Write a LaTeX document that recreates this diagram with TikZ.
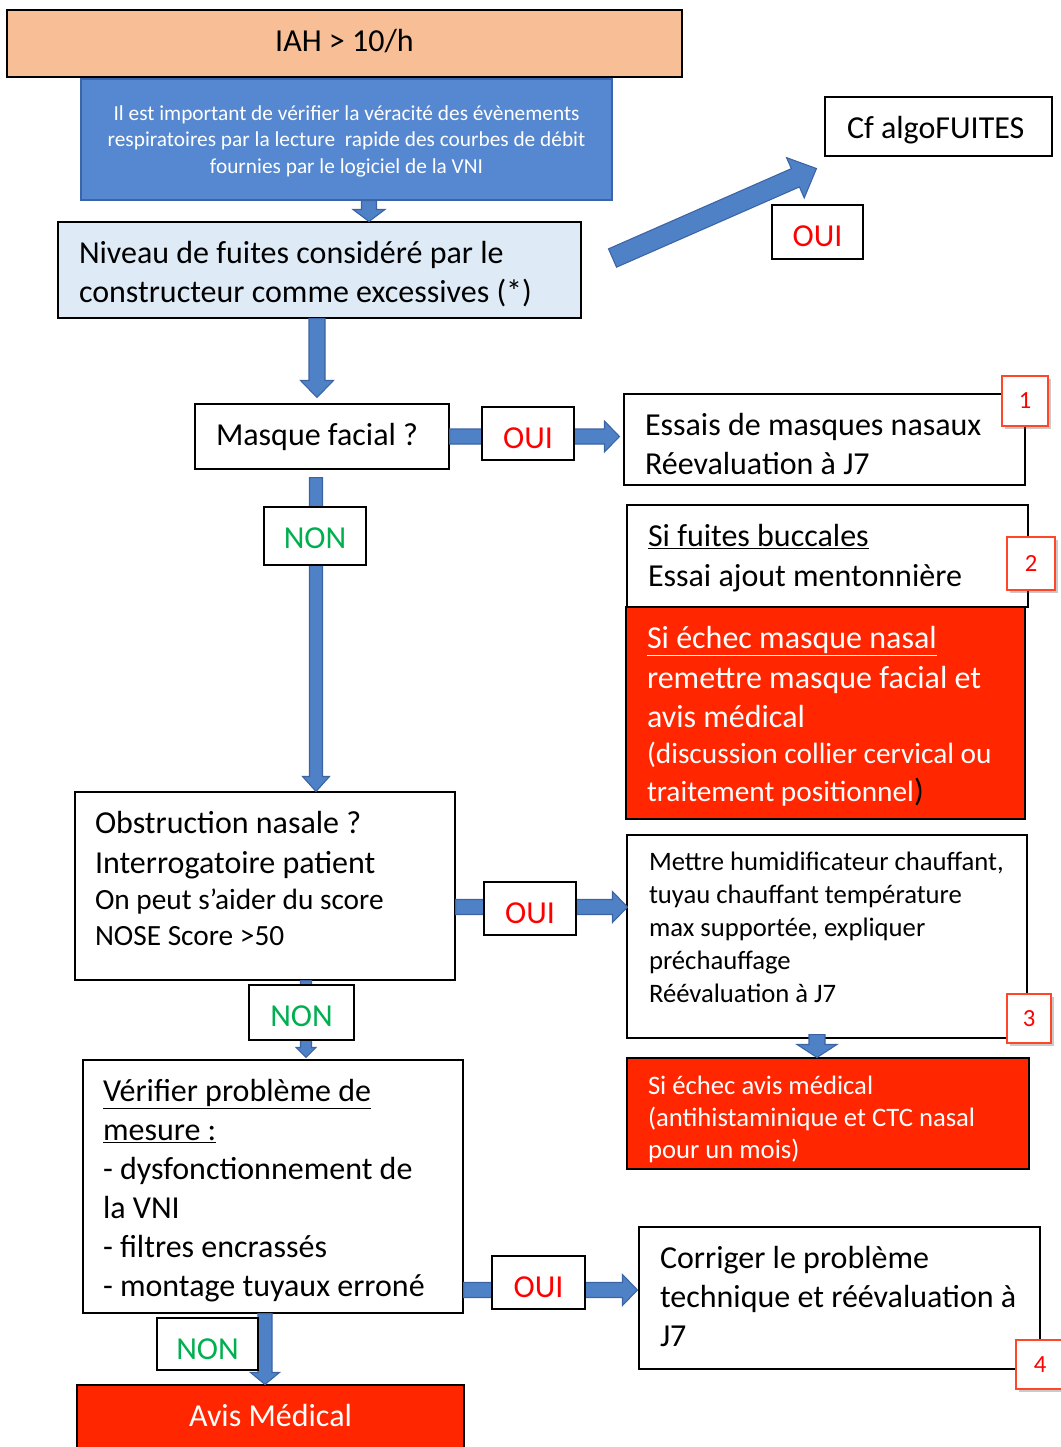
\documentclass[tikz,border=0pt]{standalone}
\usepackage{fontspec}
\setmainfont{Carlito}
\usetikzlibrary{calc,shadows}

\definecolor{peach}{RGB}{248,191,150}
\definecolor{bluebox}{RGB}{85,136,208}
\definecolor{blueline}{RGB}{60,100,170}
\definecolor{arrfill}{RGB}{79,129,199}
\definecolor{arrline}{RGB}{60,100,165}
\definecolor{lightblue}{RGB}{222,235,247}
\definecolor{redbox}{RGB}{255,38,0}
\definecolor{ouired}{RGB}{255,0,0}
\definecolor{nongreen}{RGB}{0,176,80}
\definecolor{numline}{RGB}{255,70,40}

\newcommand\Bigf{\fontsize{24}{29.25}\selectfont}
\newcommand\midf{\fontsize{20}{24.75}\selectfont}

% block arrow: from, to, shaft half width, head half width, head length (px)
\newcommand\barrow[5]{%
  \coordinate (baA) at (#1);
  \coordinate (baB) at (#2);
  \coordinate (baC) at ($(baB)!#5*0.75pt!(baA)$);
  \filldraw[fill=arrfill, draw=arrline, line width=0.8pt, line join=miter]
    ($(baA)!#3*0.75pt!90:(baB)$) -- ($(baC)!#3*0.75pt!-90:(baA)$)
    -- ($(baC)!#4*0.75pt!-90:(baA)$) -- (baB)
    -- ($(baC)!#4*0.75pt!90:(baA)$) -- ($(baC)!#3*0.75pt!90:(baA)$)
    -- ($(baA)!#3*0.75pt!-90:(baB)$) -- cycle;}

\begin{document}
\begin{tikzpicture}[x=0.75pt,y=-0.75pt,
  box/.style={draw=black, line width=0.8pt, fill=white, inner sep=0pt},
  wh/.style 2 args={minimum width=#1*0.75pt, minimum height=#2*0.75pt},
  tt/.style={text height=30.75pt, text depth=#1},
  ouibox/.style={box, text=ouired, font=\Bigf},
  nonbox/.style={box, text=nongreen, font=\Bigf},
  redfill/.style={box, fill=redbox, text=white},
  numbox/.style={draw=numline, line width=1.2pt, fill=white, inner sep=0pt,
    text=ouired, font=\fontsize{18.5}{22}\selectfont,
    drop shadow={opacity=0.35, shadow xshift=2.5pt, shadow yshift=-2.5pt, fill=black!60}}
]
\useasboundingbox (0,0) rectangle (1061,1447);

% main boxes
\node[box, fill=peach, wh={675}{67}, tt=19.5pt, font=\Bigf] (iah) at (344.5,43.5) {IAH > 10/h};
\node[box, fill=bluebox, draw=blueline, wh={531}{121}, tt=60pt, text=white,
  align=flush center, text width=398.25pt,
  font=\fontsize{16}{19.9}\selectfont] (blue) at (346.5,139.5)
  {Il est important de vérifier la véracité des évènements\\
   respiratoires par la lecture\ \ rapide des courbes de débit\\
   fournies par le logiciel de la VNI};
\node[box, fill=lightblue, wh={523}{96}, tt=41.25pt, font=\Bigf, align=flush left,
  inner xsep=15.75pt, text width=360.75pt] (niv) at (319.5,270)
  {Niveau de fuites considéré par le\\ constructeur comme excessives (*)};
\node[box, wh={227}{59}, tt=13.5pt, font=\Bigf, align=flush left,
  inner xsep=16.5pt, text width=137.25pt] (cf) at (938.5,126.5) {Cf algoFUITES};
\node[box, wh={254}{65}, tt=18pt, font=\Bigf, align=flush left,
  inner xsep=15.75pt, text width=159pt] (masq) at (322,436.5) {Masque facial ?};
\node[box, wh={401}{91}, tt=37.5pt, font=\Bigf, align=flush left, inner xsep=15.75pt,
  text width=269.25pt] (ess) at (824.5,439.5)
  {Essais de masques nasaux\\ Réevaluation à J7};
\node[box, wh={401}{102}, tt=45.75pt, font=\Bigf, align=flush left, inner xsep=15.75pt,
  text width=269.25pt] (buc) at (827.5,556)
  {\underline{Si fuites buccales}\\[0.75pt] Essai ajout mentonnière};
\node[redfill, wh={399}{212}, tt=128.25pt, font=\Bigf, align=flush left, inner xsep=15.75pt,
  text width=267.75pt] (red1) at (825.5,713)
  {\underline{Si échec masque nasal}\\[0.75pt] remettre masque facial et\\[0pt] avis médical\\[-1.5pt]
   \fontsize{22}{28.5}\selectfont(discussion collier cervical ou\\
   traitement positionnel\textcolor{black}{\fontsize{24}{28.5}\selectfont)}\par};
\node[box, wh={380}{188}, tt=110.25pt, font=\Bigf, align=flush left, inner xsep=15pt,
  text width=255pt] (obs) at (265,886)
  {Obstruction nasale ?\\[0.75pt] Interrogatoire patient\\[0pt]
   \fontsize{22}{27}\selectfont On peut s’aider du score\\ NOSE Score >50\par};
\node[box, wh={400}{203}, text height=26.6pt, text depth=125.6pt, font=\midf,
  align=flush left, inner xsep=16.5pt, text width=267pt] (met) at (827,936.5)
  {Mettre humidificateur chauffant,\\ tuyau chauffant température\\
   max supportée, expliquer\\ préchauffage\\ Réévaluation à J7};
\node[redfill, wh={402}{111}, text height=27pt, text depth=56.25pt,
  font=\fontsize{20}{24}\selectfont, align=flush left,
  inner xsep=15.75pt, text width=270pt] (red2) at (828,1113.5)
  {Si échec avis médical\\ (antihistaminique et CTC nasal\\ pour un mois)};
\node[box, wh={380}{253}, tt=159pt, font=\Bigf, align=flush left, inner xsep=15pt,
  text width=255pt] (ver) at (273,1186.5)
  {\underline{Vérifier problème de}\\ \underline{mesure :}\\ - dysfonctionnement de\\
   la VNI\\ - filtres encrassés\\ - montage tuyaux erroné};
\node[box, wh={401}{142}, tt=75.75pt, font=\Bigf, align=flush left, inner xsep=15.75pt,
  text width=269.25pt] (cor) at (839.5,1298)
  {Corriger le problème\\ technique et réévaluation à\\ J7};
\node[redfill, wh={387}{66}, tt=18.75pt, font=\Bigf] (avis) at (270.5,1418) {Avis Médical};

% connectors
\coordinate (a0) at ($(blue.south)+(22.5,0)$);
\barrow{a0}{a0 |- niv.north}{7.5}{16}{12}
\coordinate (a1) at ($(niv.south)+(-2.5,0)$);
\coordinate (a1e) at ($(a1 |- masq.north)+(0,-6)$);
\barrow{a1}{a1e}{8}{16.5}{17}
\coordinate (a2e) at ($(masq.east -| ess.west)+(-4,0)$);
\barrow{masq.east}{a2e}{7.5}{15.5}{15}
\coordinate (a3) at ($(niv.east)+(31,-12)$);
\coordinate (a3e) at ($(cf.south west)+(-8,12)$);
\barrow{a3}{a3e}{10}{22}{23}
\coordinate (a4) at ($(masq.south)+(-6,8)$);
\barrow{a4}{a4 |- obs.north}{6.5}{13.5}{15}
\coordinate (a5) at ($(obs.east)+(0,21)$);
\coordinate (a5e) at ($(a5 -| met.west)+(1,0)$);
\barrow{a5}{a5e}{7.5}{15.5}{15}
\coordinate (a6) at ($(met.south)+(-10,-4)$);
\barrow{a6}{a6 |- red2.north}{8}{20}{13}
\coordinate (a7) at ($(obs.south)+(41,0)$);
\coordinate (a7e) at ($(a7 |- ver.north)+(0,-2)$);
\barrow{a7}{a7e}{5.5}{10}{10}
\coordinate (a8) at ($(ver.east)+(0,103.5)$);
\coordinate (a8e) at ($(a8 -| cor.west)+(-1,0)$);
\barrow{a8}{a8e}{7.5}{15.5}{15}
\coordinate (a9) at ($(ver.south)+(-8,0)$);
\barrow{a9}{a9 |- avis.north}{7}{14.5}{12}

% OUI / NON labels
\node[ouibox, wh={91}{54}, tt=9.75pt] (oui0) at (817.5,232) {OUI};
\node[ouibox, wh={92}{53}, tt=9pt] (oui1) at (528,433.5) {OUI};
\node[nonbox, wh={102}{58}, tt=12.75pt] (non1) at (315,536) {NON};
\node[ouibox, wh={92}{53}, tt=9pt] (oui2) at (530,908.5) {OUI};
\node[nonbox, wh={105}{55}, tt=10.5pt] (non2) at (301.5,1012.5) {NON};
\node[ouibox, wh={93}{53}, tt=9pt] (oui3) at (538.5,1282.5) {OUI};
\node[nonbox, wh={101}{52}, tt=8.25pt] (non3) at (207.5,1344) {NON};

% numbered tags
\node[numbox, wh={46}{50}] (n1) at (1025,401) {1};
\node[numbox, wh={48}{53}] (n2) at (1031,563.5) {2};
\node[numbox, wh={44}{49}] (n3) at (1029,1018.5) {3};
\node[numbox, wh={48}{49}] (n4) at (1040,1364.5) {4};
\end{tikzpicture}
\end{document}
